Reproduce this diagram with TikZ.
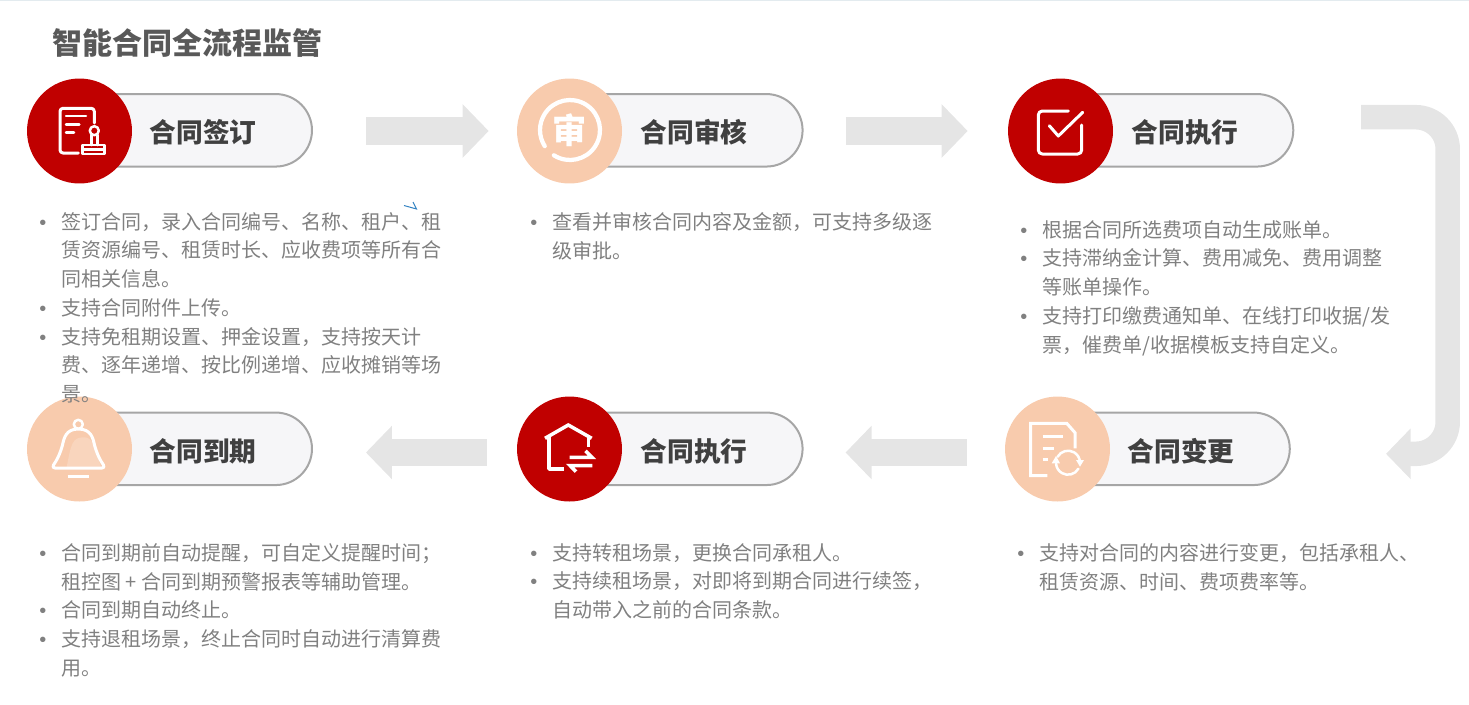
\documentclass[tikz,border=0pt]{standalone}
\usepackage{fontspec}
\setmainfont{Noto Sans CJK SC}
\newfontfamily\dotfont{Liberation Sans}
\usepackage{xcolor}
\usetikzlibrary{shapes.misc, arrows.meta, positioning}
\definecolor{seal}{HTML}{C00000}
\definecolor{peach}{HTML}{F8CBAD}
\definecolor{flowgray}{HTML}{E5E5E5}
\definecolor{pillfill}{HTML}{F6F6F8}
\definecolor{topline}{HTML}{E3EBEF}
\newcommand{\pt}{\makebox[0.44cm][l]{\dotfont •}}
\newcommand{\hg}{\hspace*{0.44cm}}

\begin{document}
\begin{tikzpicture}[
    x=0.02cm, y=-0.02cm,
    pill/.style={rounded rectangle, draw=black!35, fill=pillfill, line width=0.04cm,
                 minimum width=4.64cm, minimum height=1.45cm, inner sep=0pt},
    disc/.style={circle, fill=#1, minimum size=2.1cm, inner sep=0pt},
    tag/.style={anchor=west, inner sep=0pt, text=black!75, font=\fontsize{15.2}{18}\selectfont\bfseries,
                text height=2.1ex, text depth=0.5ex},
    notes/.style={anchor=north west, inner sep=0pt, align=left, text=black!50,
                  font=\fontsize{11.38}{16.34}\selectfont},
    flow/.style={flowgray, line width=0.55cm, -{Triangle[length=0.52cm, width=1.04cm]}},
    icon/.style={draw=white, line width=0.06cm, line cap=round, line join=round}
]
\useasboundingbox (0,0) rectangle (1469,704);
\draw[draw=topline, line width=0.03cm] (0,0.7) -- (1469,0.7);

\node[anchor=west, inner sep=0pt, text=black!65, font=\fontsize{17.07}{20}\selectfont\bfseries] (title) at (52,43) {智能合同全流程监管};

\node[pill] (pill1) at (196,130.3) {};
\node[pill] (pill2) at (686.6,130.3) {};
\node[pill] (pill3) at (1177.3,130.3) {};
\node[pill] (pill4) at (1173.8,448.8) {};
\node[pill] (pill5) at (686.6,448.8) {};
\node[pill] (pill6) at (196,448.8) {};

\node[disc=seal] (dot1) at (79.5,131) {};
\node[disc=peach] (dot2) at (569.5,131) {};
\node[disc=seal] (dot3) at (1060.5,131) {};
\node[disc=peach] (dot4) at (1057.5,449) {};
\node[disc=seal] (dot5) at (569.5,449) {};
\node[disc=peach] (dot6) at (79.5,449) {};

\node[tag] (tag1) at (149.5,135) {合同签订};
\node[tag] (tag2) at (640.5,135) {合同审核};
\node[tag] (tag3) at (1131.5,135) {合同执行};
\node[tag] (tag4) at (1127.5,454) {合同变更};
\node[tag] (tag5) at (640.5,454) {合同执行};
\node[tag] (tag6) at (149.5,454) {合同到期};

\draw[flow, shorten <=1.06cm, shorten >=0.56cm] (pill1.east |- dot2.west) -- (dot2.west);
\draw[flow, shorten <=0.84cm, shorten >=0.8cm] (pill2.east |- dot3.west) -- (dot3.west);
\coordinate (bendin) at (1361,117.2);
\coordinate (bendout) at (1386,453.8);
\draw[flow, line width=0.49cm, rounded corners=0.64cm, -{Triangle[length=0.49cm, width=0.98cm]}]
    (bendin) -- (1447.7,117.2) -- (1447.7,453.8) -- (bendout);
\draw[flow, shorten <=0.76cm, shorten >=0.84cm] ([yshift=-0.07cm]dot4.west) -- ([yshift=-0.07cm]pill5.east |- dot4.west);
\draw[flow, shorten <=0.6cm, shorten >=1.06cm] ([yshift=-0.07cm]dot5.west) -- ([yshift=-0.07cm]pill6.east |- dot5.west);

% seal on a sheet
\draw[icon, rounded corners=0.06cm] (78.3,153) -- (60,153) -- (60,108.3) -- (94.3,108.3) -- (94.3,123);
\draw[icon, line width=0.05cm] (66,116) -- (86,116) (66,124.3) -- (79.3,124.3) (66,132.3) -- (74,132.3);
\draw[icon, line width=0.05cm] (94.3,130.7) circle[radius=0.09cm];
\draw[icon, line width=0.05cm] (91.3,135) -- (91.3,145) (97.3,135) -- (97.3,145);
\draw[icon, line width=0.05cm] (82.3,145) rectangle (104.3,154) (82.3,149.5) -- (104.3,149.5);

% ring with sign
\draw[icon, line width=0.085cm] (570,130) ++(237.4:0.6cm) arc[start angle=237.4, end angle=572.6, radius=0.6cm];
\node[inner sep=0pt, text=white, font=\fontsize{19.5}{20}\selectfont\bfseries] (signmark) at (570,130) {审};

% tick box
\draw[icon, rounded corners=0.08cm] (1068.3,111) -- (1038.3,111) -- (1038.3,154) -- (1081.7,154) -- (1081.7,125);
\draw[icon] (1049.3,125.7) -- (1058.3,136) -- (1082.7,112.3);

% sheet with refresh
\draw[icon, line cap=butt, line join=miter] (1075,448.3) -- (1075,432.7) -- (1066.7,423.3) -- (1030.7,423.3) -- (1030.7,475.7) -- (1047.3,475.7);
\draw[icon, line cap=butt] (1042.7,436.7) -- (1062.7,436.7) (1042.7,448) -- (1054,448) (1042.7,459.3) -- (1048.3,459.3);
\draw[icon, line width=0.05cm] (1068,462.7) ++(150:0.24cm) arc[start angle=150, end angle=5, radius=0.24cm];
\draw[icon, line width=0.05cm] (1068,462.7) ++(330:0.24cm) arc[start angle=330, end angle=185, radius=0.24cm];
\fill[white] (1076,460) -- (1084,460) -- (1080,466.7) -- cycle;
\fill[white] (1051.7,463.3) -- (1060,463.3) -- (1056,456) -- cycle;

% house with swap
\draw[icon, line width=0.07cm, line cap=butt, line join=miter] (545,438.3) -- (568.3,425) -- (591.7,438.3);
\draw[icon, line width=0.07cm, line cap=butt] (549,437) -- (549,469) -- (564.3,469);
\draw[icon, line width=0.07cm, line cap=butt] (588.3,437) -- (588.3,447);
\draw[icon, line width=0.07cm, line cap=butt, line join=miter] (569.5,457.3) -- (592,457.3) -- (585.5,450.8);
\draw[icon, line width=0.07cm, line cap=butt, line join=miter] (592.3,465.5) -- (570,465.5) -- (576,471.7);

% bell
\fill[white, opacity=0.2] (66.7,467) .. controls (71,445) and (72,437) .. (84,437.3) .. controls (94,437) and (95,450) .. (101,467) -- cycle;
\draw[icon, line width=0.05cm] (78.3,424.3) circle[radius=0.09cm];
\draw[icon] (78.3,429) .. controls (66,429) and (64,438) .. (62.5,445) .. controls (60,454) and (57,460) .. (53.5,465) .. controls (52.5,467) and (53,468) .. (55,468) -- (102,468) .. controls (104,468) and (104.5,467) .. (103.5,465) .. controls (100,460) and (97,454) .. (94.5,445) .. controls (93,438) and (91,429) .. (78.3,429) -- cycle;
\draw[icon, line cap=butt] (67.7,476.3) -- (89.3,476.3);

\draw[blue!45!cyan!70!black!80, line width=0.02cm] (404,205.5) -- (416.5,209) -- (413,202);

\node[notes] (notes1) at (39,212) {\pt 签订合同，录入合同编号、名称、租户、租\\\hg 赁资源编号、租赁时长、应收费项等所有合\\\hg 同相关信息。\\\pt 支持合同附件上传。\\\pt 支持免租期设置、押金设置，支持按天计\\\hg 费、逐年递增、按比例递增、应收摊销等场\\\hg 景。};
\node[notes] (notes2) at (530,212) {\pt 查看并审核合同内容及金额，可支持多级逐\\\hg 级审批。};
\node[notes] (notes3) at (1020,220) {\pt 根据合同所选费项自动生成账单。\\\pt 支持滞纳金计算、费用减免、费用调整\\\hg 等账单操作。\\\pt 支持打印缴费通知单、在线打印收据/发\\\hg 票，催费单/收据模板支持自定义。};
\node[notes] (notes4) at (1017,543) {\pt 支持对合同的内容进行变更，包括承租人、\\\hg 租赁资源、时间、费项费率等。};
\node[notes] (notes5) at (530,543) {\pt 支持转租场景，更换合同承租人。\\\pt 支持续租场景，对即将到期合同进行续签，\\\hg 自动带入之前的合同条款。};
\node[notes] (notes6) at (39,543) {\pt 合同到期前自动提醒，可自定义提醒时间；\\\hg 租控图 + 合同到期预警报表等辅助管理。\\\pt 合同到期自动终止。\\\pt 支持退租场景，终止合同时自动进行清算费\\\hg 用。};
\end{tikzpicture}
\end{document}
